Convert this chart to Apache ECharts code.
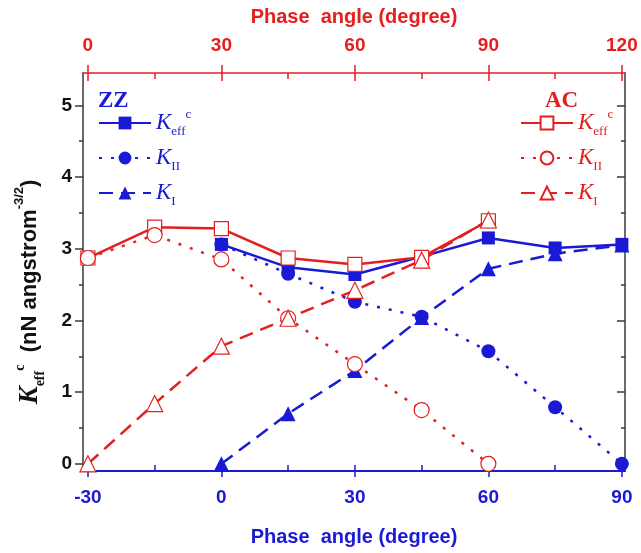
<!DOCTYPE html>
<html>
<head>
<meta charset="utf-8">
<script src="https://cdn.jsdelivr.net/npm/echarts@6/dist/echarts.min.js"></script>
<style>
  html, body { margin: 0; padding: 0; background: #fff; }
  #main { width: 641px; height: 553px; }
</style>
</head>
<body>
<div id="main"></div>
<script>
/* ZZ: bottom axis (blue), AC: top axis (red) */
var angleZZ = [0, 15, 30, 45, 60, 75, 90];
var keffZZ = [3.06, 2.74, 2.64, 2.89, 3.15, 3.01, 3.06];
var kiiZZ = [3.06, 2.65, 2.26, 2.05, 1.57, 0.79, 0];
var kiZZ = [0, 0.70, 1.30, 2.04, 2.72, 2.93, 3.05];

var angleAC = [0, 15, 30, 45, 60, 75, 90];
var keffAC = [2.87, 3.30, 3.28, 2.87, 2.78, 2.88, 3.39];
var kiiAC = [2.87, 3.19, 2.85, 2.03, 1.39, 0.75, 0];
var kiAC = [0, 0.84, 1.64, 2.03, 2.42, 2.84, 3.40];

var bottomTicks = [-30, 0, 30, 60, 90];
var bottomMinor = [-15, 15, 45, 75];
var topTicks = [0, 30, 60, 90, 120];
var topMinor = [15, 45, 75, 105];
var yTicks = [0, 1, 2, 3, 4, 5];
var yMinor = [0.5, 1.5, 2.5, 3.5, 4.5];

var BLUE = '#1a1ad6';
var RED = '#e3201f';
var GRAY = '#3a3a3a';

function pairs(xs, ys) {
    return xs.map(function (x, i) { return [x, ys[i]]; });
}

var xMin = -31.1, xMax = 90.7;
var yMin = -0.1, yMax = 5.45;

var kRich = function (color) {
    return {
        k: { fontFamily: 'Liberation Serif', fontStyle: 'italic', fontSize: 23, color: color, lineHeight: 30, verticalAlign: 'middle' },
        sub: { fontFamily: 'Liberation Serif', fontSize: 13, color: color, verticalAlign: 'bottom', lineHeight: 13 },
        sup: { fontFamily: 'Liberation Serif', fontSize: 13, color: color, verticalAlign: 'top', lineHeight: 13 }
    };
};

var legendNames = {
    'Keff ZZ': '{k|K}{sub|eff}{sup|c}', 'KII ZZ': '{k|K}{sub|II}', 'KI ZZ': '{k|K}{sub|I}',
    'Keff AC': '{k|K}{sub|eff}{sup|c}', 'KII AC': '{k|K}{sub|II}', 'KI AC': '{k|K}{sub|I}'
};

function tickAxis(pos, color, values, len, inside) {
    return {
        type: 'value', position: pos, min: pos === 'top' ? xMin + 30 : xMin, max: pos === 'top' ? xMax + 30 : xMax,
        axisLine: { show: false, onZero: false },
        axisTick: { show: true, inside: inside, length: len, customValues: values, lineStyle: { color: color, width: 1.5 } },
        axisLabel: { show: false },
        splitLine: { show: false }
    };
}

function yTickAxis(pos, values, len, inside) {
    return {
        type: 'value', position: pos, min: yMin, max: yMax,
        axisLine: { show: false, onZero: false },
        axisTick: { show: true, inside: inside, length: len, customValues: values, lineStyle: { color: GRAY, width: 1.5 } },
        axisLabel: { show: false },
        splitLine: { show: false }
    };
}

var chart = echarts.init(document.getElementById('main'));

function lineSeries(name, xAxisIndex, data, color, filled, symbol, size, dash) {
    return {
        name: name, type: 'line', xAxisIndex: xAxisIndex, yAxisIndex: 0,
        data: data, symbol: symbol, symbolSize: size, clip: false,
        color: color,
        lineStyle: { color: color, width: 2.5, type: dash },
        itemStyle: filled ? { color: color } : { color: '#fff', borderColor: color, borderWidth: 1.2 },
        z: filled ? 2 : 3
    };
}

chart.setOption({
    animation: false,
    grid: { left: 83, right: 16, top: 73, bottom: 82, containLabel: false, outerBoundsMode: 'none' },
    xAxis: [
        {
            type: 'value', position: 'bottom', min: xMin, max: xMax,
            name: 'Phase  angle (degree)', nameLocation: 'middle', nameGap: 56,
            nameTextStyle: { color: BLUE, fontFamily: 'Liberation Sans', fontWeight: 'bold', fontSize: 20 },
            axisLine: { show: true, onZero: false, lineStyle: { color: BLUE, width: 2 } },
            axisTick: { show: true, inside: false, length: 6, customValues: bottomTicks, lineStyle: { color: BLUE, width: 1.5 } },
            axisLabel: { customValues: bottomTicks, margin: 17, color: BLUE, fontFamily: 'Liberation Sans', fontWeight: 'bold', fontSize: 19 },
            splitLine: { show: false }
        },
        tickAxis('bottom', BLUE, bottomTicks.concat(bottomMinor), 6, true),
        {
            type: 'value', position: 'top', min: xMin + 30, max: xMax + 30,
            name: 'Phase  angle (degree)', nameLocation: 'middle', nameGap: 46,
            nameTextStyle: { color: RED, fontFamily: 'Liberation Sans', fontWeight: 'bold', fontSize: 20 },
            axisLine: { show: true, onZero: false, lineStyle: { color: RED, width: 1.5 } },
            axisTick: { show: true, inside: false, length: 8, customValues: topTicks, lineStyle: { color: RED, width: 1.5 } },
            axisLabel: { customValues: topTicks, margin: 18, color: RED, fontFamily: 'Liberation Sans', fontWeight: 'bold', fontSize: 19 },
            splitLine: { show: false }
        },
        tickAxis('top', RED, topTicks, 8, true),
        tickAxis('top', RED, topMinor, 6, true)
    ],
    yAxis: [
        {
            type: 'value', position: 'left', min: yMin, max: yMax,
            name: '{k|K}{sub|eff}{sup|c}{t|  (nN angstrom}{sup2|-3/2}{t|)}',
            nameLocation: 'middle', nameGap: 36, nameRotate: 90,
            nameTextStyle: {
                color: '#111',
                padding: [0, 40, 0, 0],
                rich: {
                    k: { fontFamily: 'Liberation Serif', fontStyle: 'italic', fontWeight: 'bold', fontSize: 27, lineHeight: 34, verticalAlign: 'middle', color: '#111' },
                    sub: { fontFamily: 'Liberation Serif', fontWeight: 'bold', fontSize: 14, verticalAlign: 'bottom', lineHeight: 14, color: '#111' },
                    sup: { fontFamily: 'Liberation Serif', fontWeight: 'bold', fontSize: 14, verticalAlign: 'top', lineHeight: 14, color: '#111' },
                    t: { fontFamily: 'Liberation Sans', fontWeight: 'bold', fontSize: 22, verticalAlign: 'middle', color: '#111' },
                    sup2: { fontFamily: 'Liberation Sans', fontWeight: 'bold', fontSize: 13, verticalAlign: 'top', lineHeight: 13, color: '#111' }
                }
            },
            axisLine: { show: true, onZero: false, lineStyle: { color: GRAY, width: 1.5 } },
            axisTick: { show: true, inside: false, length: 8, customValues: yTicks, lineStyle: { color: GRAY, width: 1.5 } },
            axisLabel: { customValues: yTicks, margin: 11, color: '#111', fontFamily: 'Liberation Sans', fontWeight: 'bold', fontSize: 19 },
            splitLine: { show: false }
        },
        yTickAxis('left', yMinor, 4, false),
        {
            type: 'value', position: 'right', min: yMin, max: yMax,
            axisLine: { show: true, onZero: false, lineStyle: { color: GRAY, width: 1.5 } },
            axisTick: { show: true, inside: true, length: 8, customValues: yTicks, lineStyle: { color: GRAY, width: 1.5 } },
            axisLabel: { show: false },
            splitLine: { show: false }
        },
        yTickAxis('right', yMinor, 4, true)
    ],
    legend: [
        {
            data: ['Keff ZZ', 'KII ZZ', 'KI ZZ'], orient: 'vertical', left: 93, top: 103,
            itemWidth: 52, itemHeight: 16, itemGap: 8.5,
            formatter: function (n) { return legendNames[n]; },
            textStyle: { rich: kRich(BLUE) }
        },
        {
            data: ['Keff AC', 'KII AC', 'KI AC'], orient: 'vertical', left: 515, top: 103,
            itemWidth: 52, itemHeight: 16, itemGap: 8.5,
            formatter: function (n) { return legendNames[n]; },
            textStyle: { rich: kRich(RED) }
        }
    ],
    graphic: [
        { type: 'text', left: 98, top: 90, style: { text: 'ZZ', fill: BLUE, font: 'bold 23px "Liberation Serif"' } },
        { type: 'text', left: 545, top: 90, style: { text: 'AC', fill: RED, font: 'bold 23px "Liberation Serif"' } }
    ],
    series: [
        lineSeries('Keff ZZ', 0, pairs(angleZZ, keffZZ), BLUE, true, 'rect', 13, 'solid'),
        lineSeries('KII ZZ', 0, pairs(angleZZ, kiiZZ), BLUE, true, 'circle', 14, [3, 9]),
        lineSeries('KI ZZ', 0, pairs(angleZZ, kiZZ), BLUE, true, 'triangle', 15, [14, 8]),
        lineSeries('Keff AC', 2, pairs(angleAC, keffAC), RED, false, 'rect', 14, 'solid'),
        lineSeries('KII AC', 2, pairs(angleAC, kiiAC), RED, false, 'circle', 15, [3, 9]),
        lineSeries('KI AC', 2, pairs(angleAC, kiAC), RED, false, 'triangle', 16, [14, 8])
    ]
});
</script>
</body>
</html>
